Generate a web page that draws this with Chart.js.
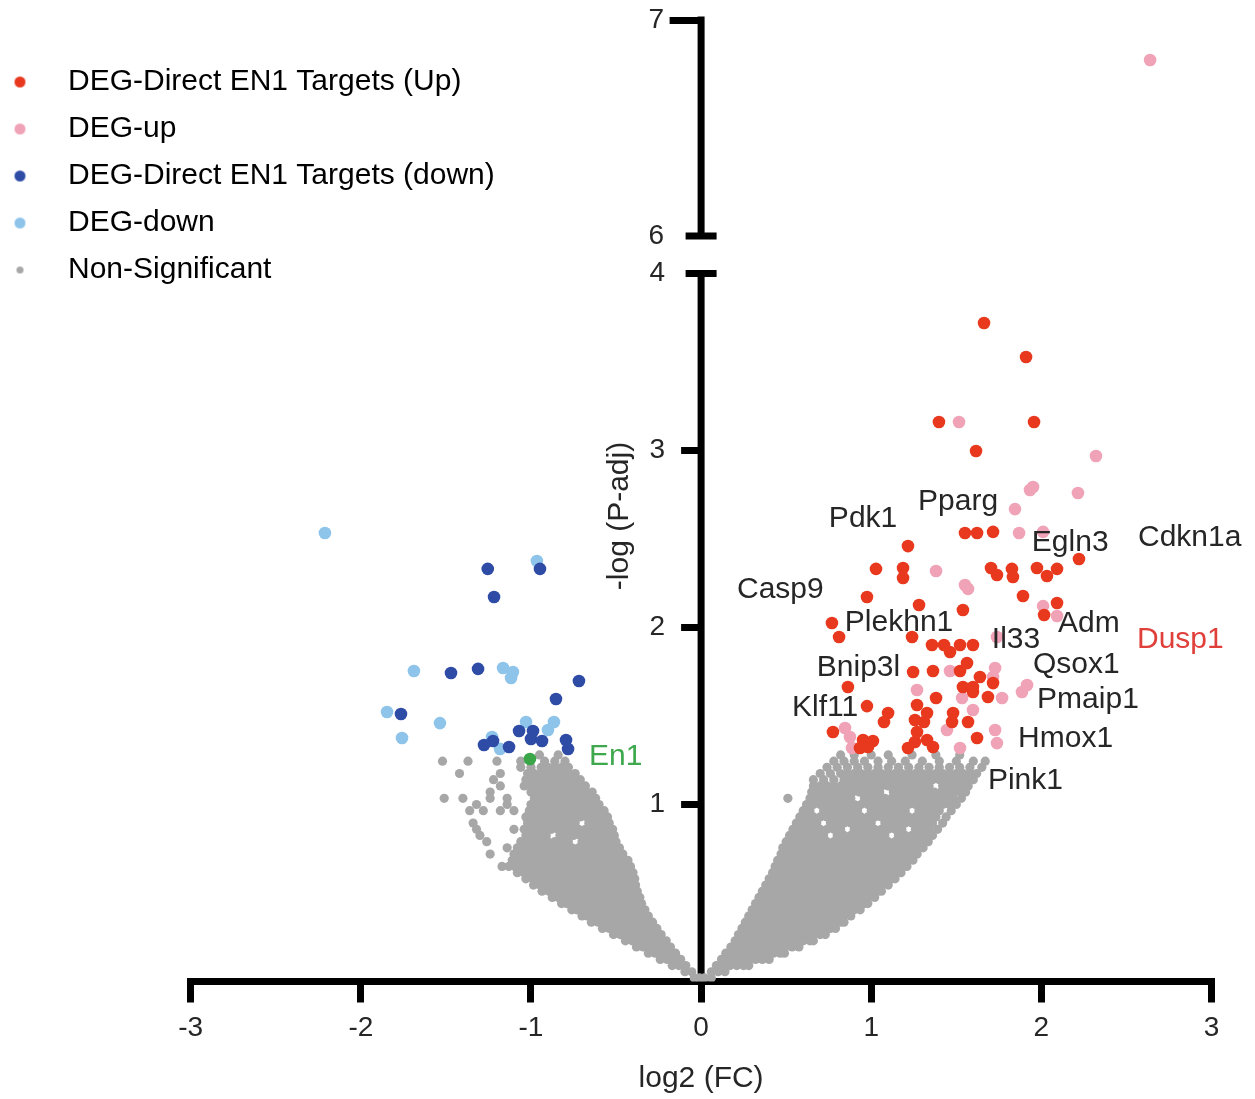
<!DOCTYPE html>
<html>
<head>
<meta charset="utf-8">
<title>Volcano plot</title>
<script src="https://cdn.jsdelivr.net/npm/chart.js@4.4.1/dist/chart.umd.min.js"></script>
<style>
  html, body { margin: 0; padding: 0; background: #fff; }
  #wrap { width: 1255px; height: 1099px; }
</style>
</head>
<body>
<div id="wrap"><canvas id="volcano" width="1255" height="1099"></canvas></div>
<script>
// legend order and colours
var seriesNames = ['DEG-Direct EN1 Targets (Up)', 'DEG-up', 'DEG-Direct EN1 Targets (down)', 'DEG-down', 'Non-Significant'];
var seriesColors = ['#e8391f', '#f0a2b6', '#2e4ca6', '#8ec4ea', '#a7a7a7'];

var xTicks = [-3, -2, -1, 0, 1, 2, 3];
var yTicksLow = [1, 2, 3, 4];
var yTicksHigh = [6, 7];

// [log2 FC, -log P-adj]
var upDirect = [
  [1.663, 3.720], [1.910, 3.528], [1.398, 3.161], [1.957, 3.161], [1.616, 2.997],
  [1.551, 2.534], [1.622, 2.534], [1.716, 2.540], [1.216, 2.460], [1.028, 2.331],
  [1.187, 2.336], [1.187, 2.280], [1.704, 2.336], [1.739, 2.297], [1.827, 2.331],
  [1.833, 2.285], [1.974, 2.336], [2.033, 2.291], [2.092, 2.331], [2.221, 2.387],
  [0.975, 2.172], [1.281, 2.127], [1.539, 2.099], [1.892, 2.178], [2.092, 2.138],
  [2.016, 2.071], [0.769, 2.025], [0.811, 1.946], [1.240, 1.946], [1.357, 1.901],
  [1.428, 1.901], [1.522, 1.901], [1.598, 1.901], [1.463, 1.862], [1.246, 1.749],
  [1.363, 1.754], [1.522, 1.754], [1.563, 1.799], [1.539, 1.664], [1.598, 1.664],
  [1.639, 1.720], [1.598, 1.636], [1.716, 1.686], [1.686, 1.607], [0.863, 1.664],
  [1.381, 1.602], [0.975, 1.556], [1.269, 1.562], [1.328, 1.517], [1.257, 1.477],
  [1.310, 1.466], [1.099, 1.517], [1.075, 1.466], [1.481, 1.517], [1.475, 1.466],
  [1.569, 1.466], [0.775, 1.410], [0.952, 1.364], [1.010, 1.359], [0.934, 1.319],
  [0.981, 1.325], [1.269, 1.410], [1.257, 1.353], [1.216, 1.319], [1.328, 1.364],
  [1.363, 1.325], [1.622, 1.376]
];
var upOther = [
  [1.516, 3.161], [2.321, 2.969], [1.933, 2.777], [1.951, 2.794], [2.215, 2.760],
  [1.845, 2.669], [1.869, 2.534], [2.010, 2.540], [1.381, 2.319], [1.551, 2.240],
  [1.569, 2.218], [2.010, 2.121], [2.092, 2.065], [1.739, 1.946], [1.728, 1.771],
  [1.463, 1.754], [1.916, 1.675], [1.886, 1.636], [1.269, 1.647], [1.534, 1.602],
  [1.598, 1.534], [0.846, 1.432], [0.875, 1.381], [0.887, 1.319], [1.445, 1.421],
  [1.728, 1.421], [1.739, 1.347], [1.522, 1.319], [1.769, 1.602], [1.716, 1.720]
];
var upOtherHigh = [[2.639, 6.815]];
var downDirect = [
  [-1.254, 2.331], [-0.947, 2.331], [-1.217, 2.172], [-1.470, 1.743], [-1.311, 1.766],
  [-0.718, 1.698], [-0.853, 1.596], [-1.764, 1.511], [-1.070, 1.415], [-0.988, 1.415],
  [-1.000, 1.370], [-0.935, 1.359], [-0.794, 1.364], [-0.782, 1.314], [-1.276, 1.336],
  [-1.223, 1.359], [-1.129, 1.325]
];
var downOther = [
  [-2.211, 2.534], [-0.965, 2.376], [-1.688, 1.754], [-1.164, 1.771], [-1.106, 1.749],
  [-1.117, 1.715], [-1.846, 1.523], [-1.535, 1.460], [-1.758, 1.376], [-1.029, 1.466],
  [-0.865, 1.466], [-0.900, 1.421], [-1.182, 1.314], [-1.229, 1.381]
];
var en1Point = [[-1.006, 1.257]];

// non-significant genes, one row per -log P-adj level: [y, x, x, ...]
var greyLeftRows = [
  [0.02, -0.01, -0.04],
  [0.055, -0.055, -0.095],
  [0.09, -0.09, -0.13, -0.17],
  [0.125, -0.12, -0.16, -0.20, -0.24],
  [0.16, -0.15, -0.19, -0.23, -0.27, -0.31],
  [0.195, -0.18, -0.22, -0.26, -0.30, -0.34, -0.38],
  [0.23, -0.205, -0.245, -0.285, -0.325, -0.365, -0.405, -0.445],
  [0.265, -0.235, -0.275, -0.315, -0.355, -0.395, -0.435, -0.475, -0.515],
  [0.30, -0.26, -0.30, -0.34, -0.38, -0.42, -0.46, -0.50, -0.54, -0.58],
  [0.335, -0.285, -0.325, -0.365, -0.405, -0.445, -0.485, -0.525, -0.565, -0.605, -0.645],
  [0.37, -0.31, -0.35, -0.39, -0.43, -0.47, -0.51, -0.55, -0.59, -0.63, -0.67, -0.70],
  [0.405, -0.33, -0.37, -0.41, -0.45, -0.49, -0.53, -0.57, -0.61, -0.65, -0.69, -0.73, -0.76],
  [0.44, -0.35, -0.39, -0.43, -0.47, -0.51, -0.55, -0.59, -0.63, -0.67, -0.71, -0.75, -0.79, -0.82],
  [0.475, -0.36, -0.40, -0.44, -0.48, -0.52, -0.56, -0.60, -0.64, -0.68, -0.72, -0.76, -0.80, -0.84, -0.875],
  [0.51, -0.375, -0.415, -0.455, -0.495, -0.535, -0.575, -0.615, -0.655, -0.695, -0.735, -0.775, -0.815, -0.855, -0.895, -0.935],
  [0.545, -0.385, -0.425, -0.465, -0.505, -0.545, -0.585, -0.625, -0.665, -0.705, -0.745, -0.785, -0.825, -0.865, -0.905, -0.945, -0.985],
  [0.58, -0.39, -0.43, -0.47, -0.51, -0.55, -0.59, -0.63, -0.67, -0.71, -0.75, -0.79, -0.83, -0.87, -0.91, -0.95, -0.99, -1.03],
  [0.615, -0.40, -0.44, -0.48, -0.52, -0.56, -0.60, -0.64, -0.68, -0.72, -0.76, -0.80, -0.84, -0.88, -0.92, -0.96, -1.00, -1.04, -1.08],
  [0.65, -0.415, -0.455, -0.495, -0.535, -0.575, -0.615, -0.655, -0.695, -0.735, -0.775, -0.815, -0.855, -0.895, -0.935, -0.975, -1.015, -1.055, -1.095, -1.13, -1.17],
  [0.685, -0.43, -0.47, -0.51, -0.55, -0.59, -0.63, -0.67, -0.71, -0.75, -0.79, -0.83, -0.87, -0.91, -0.95, -0.99, -1.03, -1.07, -1.11],
  [0.72, -0.46, -0.50, -0.54, -0.58, -0.62, -0.66, -0.70, -0.74, -0.78, -0.82, -0.86, -0.90, -0.94, -0.98, -1.02, -1.06, -1.10, -1.24],
  [0.755, -0.48, -0.52, -0.56, -0.60, -0.64, -0.68, -0.72, -0.76, -0.80, -0.84, -0.88, -0.92, -0.96, -1.00, -1.04, -1.08, -1.14],
  [0.79, -0.50, -0.54, -0.58, -0.62, -0.66, -0.70, -0.78, -0.82, -0.86, -0.90, -0.94, -0.98, -1.02, -1.06, -1.26],
  [0.825, -0.51, -0.55, -0.59, -0.63, -0.67, -0.71, -0.75, -0.79, -0.83, -0.91, -0.95, -0.99, -1.03, -1.30],
  [0.86, -0.52, -0.56, -0.60, -0.64, -0.68, -0.72, -0.76, -0.80, -0.84, -0.88, -0.92, -0.96, -1.00, -1.04, -1.10, -1.32],
  [0.895, -0.54, -0.58, -0.62, -0.66, -0.74, -0.78, -0.82, -0.86, -0.90, -0.94, -0.98, -1.02, -1.34],
  [0.93, -0.55, -0.59, -0.63, -0.67, -0.71, -0.75, -0.79, -0.83, -0.87, -0.91, -0.95, -0.99, -1.03],
  [0.965, -0.57, -0.61, -0.65, -0.69, -0.73, -0.77, -0.81, -0.85, -0.89, -0.93, -0.97, -1.01, -1.10, -1.18, -1.28, -1.36],
  [1.0, -0.60, -0.64, -0.68, -0.72, -0.76, -0.80, -0.84, -0.88, -0.92, -0.96, -1.00, -1.14, -1.32],
  [1.035, -0.62, -0.66, -0.70, -0.74, -0.78, -0.82, -0.86, -0.90, -0.94, -0.98, -1.14, -1.24, -1.40, -1.51],
  [1.07, -0.64, -0.68, -0.72, -0.76, -0.80, -0.84, -0.88, -0.92, -0.96, -1.00, -1.24],
  [1.105, -0.68, -0.72, -0.76, -0.80, -0.84, -0.88, -0.92, -0.96, -1.00, -1.04, -1.18],
  [1.14, -0.71, -0.75, -0.79, -0.83, -0.87, -0.91, -0.95, -0.99, -1.03, -1.22],
  [1.175, -0.74, -0.78, -0.82, -0.86, -0.90, -0.94, -0.98, -1.02, -1.18, -1.42],
  [1.21, -0.78, -0.82, -0.86, -0.90, -0.94, -1.00, -1.06],
  [1.245, -0.80, -0.86, -0.92, -1.06, -1.20, -1.37, -1.52],
  [1.28, -0.84, -0.95]
];
var greyRightRows = [
  [0.02, 0.02, 0.06],
  [0.055, 0.06, 0.10, 0.14],
  [0.09, 0.09, 0.13, 0.17, 0.21, 0.25, 0.28],
  [0.125, 0.12, 0.16, 0.20, 0.24, 0.28, 0.32, 0.36, 0.40],
  [0.16, 0.145, 0.185, 0.225, 0.265, 0.305, 0.345, 0.385, 0.425, 0.465, 0.49],
  [0.195, 0.175, 0.215, 0.255, 0.295, 0.335, 0.375, 0.415, 0.455, 0.495, 0.535, 0.575],
  [0.23, 0.20, 0.24, 0.28, 0.32, 0.36, 0.40, 0.44, 0.48, 0.52, 0.56, 0.60, 0.64, 0.66],
  [0.265, 0.22, 0.26, 0.30, 0.34, 0.38, 0.42, 0.46, 0.50, 0.54, 0.58, 0.62, 0.66, 0.70, 0.73],
  [0.30, 0.24, 0.28, 0.32, 0.36, 0.40, 0.44, 0.48, 0.52, 0.56, 0.60, 0.64, 0.68, 0.72, 0.76, 0.79],
  [0.335, 0.26, 0.30, 0.34, 0.38, 0.42, 0.46, 0.50, 0.54, 0.58, 0.62, 0.66, 0.70, 0.74, 0.78, 0.82, 0.84],
  [0.37, 0.28, 0.32, 0.36, 0.40, 0.44, 0.48, 0.52, 0.56, 0.60, 0.64, 0.68, 0.72, 0.76, 0.80, 0.84, 0.88],
  [0.405, 0.30, 0.34, 0.38, 0.42, 0.46, 0.50, 0.54, 0.58, 0.62, 0.66, 0.70, 0.74, 0.78, 0.82, 0.86, 0.90, 0.935],
  [0.44, 0.32, 0.36, 0.40, 0.44, 0.48, 0.52, 0.56, 0.60, 0.64, 0.68, 0.72, 0.76, 0.80, 0.84, 0.88, 0.92, 0.96, 0.98],
  [0.475, 0.34, 0.38, 0.42, 0.46, 0.50, 0.54, 0.58, 0.62, 0.66, 0.70, 0.74, 0.78, 0.82, 0.86, 0.90, 0.94, 0.98, 1.02],
  [0.51, 0.36, 0.40, 0.44, 0.48, 0.52, 0.56, 0.60, 0.64, 0.68, 0.72, 0.76, 0.80, 0.84, 0.88, 0.92, 0.96, 1.00, 1.04, 1.06],
  [0.545, 0.38, 0.42, 0.46, 0.50, 0.54, 0.58, 0.62, 0.66, 0.70, 0.74, 0.78, 0.82, 0.86, 0.90, 0.94, 0.98, 1.02, 1.06, 1.10],
  [0.58, 0.40, 0.44, 0.48, 0.52, 0.56, 0.60, 0.64, 0.68, 0.72, 0.76, 0.80, 0.84, 0.88, 0.92, 0.96, 1.00, 1.04, 1.08, 1.12, 1.14],
  [0.615, 0.42, 0.46, 0.50, 0.54, 0.58, 0.62, 0.66, 0.70, 0.74, 0.78, 0.82, 0.86, 0.90, 0.94, 0.98, 1.02, 1.06, 1.10, 1.14, 1.175],
  [0.65, 0.435, 0.475, 0.515, 0.555, 0.595, 0.635, 0.675, 0.715, 0.755, 0.795, 0.835, 0.875, 0.915, 0.955, 0.995, 1.035, 1.075, 1.115, 1.155, 1.195, 1.21],
  [0.685, 0.45, 0.49, 0.53, 0.57, 0.61, 0.65, 0.69, 0.73, 0.77, 0.81, 0.85, 0.89, 0.93, 0.97, 1.01, 1.05, 1.09, 1.13, 1.17, 1.21, 1.245],
  [0.72, 0.47, 0.51, 0.55, 0.59, 0.63, 0.67, 0.71, 0.75, 0.79, 0.83, 0.87, 0.91, 0.95, 0.99, 1.03, 1.07, 1.11, 1.15, 1.19, 1.23, 1.27],
  [0.755, 0.48, 0.52, 0.56, 0.60, 0.64, 0.68, 0.72, 0.76, 0.80, 0.84, 0.88, 0.92, 0.96, 1.00, 1.04, 1.08, 1.12, 1.16, 1.20, 1.24, 1.28, 1.305],
  [0.79, 0.50, 0.54, 0.58, 0.62, 0.66, 0.70, 0.74, 0.78, 0.82, 0.86, 0.90, 0.94, 0.98, 1.02, 1.06, 1.10, 1.14, 1.18, 1.22, 1.26, 1.30, 1.335],
  [0.825, 0.52, 0.56, 0.60, 0.64, 0.68, 0.72, 0.80, 0.84, 0.88, 0.92, 0.96, 1.00, 1.04, 1.08, 1.16, 1.20, 1.24, 1.28, 1.32, 1.36],
  [0.86, 0.54, 0.58, 0.62, 0.66, 0.70, 0.74, 0.78, 0.82, 0.90, 0.94, 0.98, 1.02, 1.06, 1.10, 1.14, 1.18, 1.26, 1.30, 1.34, 1.39],
  [0.895, 0.56, 0.60, 0.64, 0.68, 0.76, 0.80, 0.84, 0.88, 0.92, 0.96, 1.00, 1.08, 1.12, 1.16, 1.20, 1.24, 1.28, 1.32, 1.36, 1.42],
  [0.93, 0.58, 0.62, 0.66, 0.70, 0.74, 0.78, 0.82, 0.86, 0.90, 0.94, 0.98, 1.02, 1.06, 1.10, 1.14, 1.18, 1.22, 1.26, 1.30, 1.34, 1.38, 1.44],
  [0.965, 0.60, 0.64, 0.72, 0.76, 0.80, 0.84, 0.88, 0.92, 1.00, 1.04, 1.08, 1.12, 1.16, 1.20, 1.28, 1.32, 1.36, 1.40, 1.47],
  [1.0, 0.62, 0.66, 0.70, 0.74, 0.78, 0.82, 0.86, 0.90, 0.94, 0.98, 1.02, 1.06, 1.10, 1.14, 1.18, 1.22, 1.26, 1.30, 1.34, 1.38, 1.42, 1.46, 1.50],
  [1.035, 0.51, 0.64, 0.68, 0.72, 0.76, 0.80, 0.84, 0.88, 0.96, 1.00, 1.04, 1.08, 1.12, 1.16, 1.20, 1.24, 1.28, 1.32, 1.36, 1.40, 1.44, 1.48, 1.53],
  [1.07, 0.65, 0.69, 0.73, 0.77, 0.81, 0.85, 0.89, 0.93, 0.97, 1.01, 1.05, 1.13, 1.17, 1.21, 1.25, 1.29, 1.33, 1.37, 1.41, 1.45, 1.49, 1.53, 1.555],
  [1.105, 0.66, 0.70, 0.74, 0.78, 0.82, 0.86, 0.90, 0.94, 0.98, 1.02, 1.06, 1.10, 1.14, 1.18, 1.22, 1.26, 1.30, 1.34, 1.42, 1.46, 1.50, 1.54, 1.57],
  [1.14, 0.66, 0.72, 0.78, 0.84, 0.88, 0.92, 0.96, 1.00, 1.04, 1.08, 1.12, 1.16, 1.20, 1.24, 1.28, 1.32, 1.36, 1.40, 1.44, 1.48, 1.52, 1.56, 1.60],
  [1.175, 0.70, 0.76, 0.82, 0.86, 0.90, 0.94, 0.98, 1.02, 1.06, 1.10, 1.14, 1.18, 1.22, 1.26, 1.30, 1.34, 1.38, 1.42, 1.46, 1.50, 1.54, 1.58, 1.62],
  [1.21, 0.74, 0.80, 0.86, 0.92, 0.98, 1.04, 1.10, 1.16, 1.22, 1.28, 1.34, 1.40, 1.46, 1.52, 1.58, 1.65],
  [1.245, 0.78, 0.84, 0.90, 0.96, 1.04, 1.12, 1.20, 1.30, 1.40, 1.50, 1.60, 1.67],
  [1.28, 0.82, 0.90, 1.00, 1.10, 1.24, 1.38, 1.52]
];

// gene annotations: left edge and vertical centre, in data units
var geneNames = ['Pdk1', 'Pparg', 'Egln3', 'Cdkn1a', 'Casp9', 'Plekhn1', 'Il33', 'Adm', 'Dusp1',
  'Bnip3l', 'Qsox1', 'Klf11', 'Pmaip1', 'Hmox1', 'Pink1', 'En1'];
var geneX = [0.751, 1.275, 1.944, 2.568, 0.211, 0.845, 1.709, 2.098, 2.562,
  0.680, 1.951, 0.534, 1.975, 1.863, 1.686, -0.659];
var geneY = [2.613, 2.709, 2.480, 2.508, 2.212, 2.025, 1.929, 2.020, 1.929,
  1.771, 1.788, 1.545, 1.590, 1.370, 1.133, 1.268];
var geneColors = { 'Dusp1': '#e0403a', 'En1': '#3da84c' };

function toPoints(pairs) {
  return pairs.map(function (p) { return { x: p[0], y: p[1] }; });
}
function rowsToPoints(rows) {
  var pts = [];
  rows.forEach(function (r) {
    for (var i = 1; i < r.length; i++) pts.push({ x: r[i], y: r[0] });
  });
  return pts;
}
// small round marker for the legend
function dot(color, r) {
  var c = document.createElement('canvas');
  c.width = c.height = Math.ceil(r * 2 + 2);
  var g = c.getContext('2d');
  g.fillStyle = color;
  g.beginPath();
  g.arc(c.width / 2, c.height / 2, r, 0, Math.PI * 2);
  g.fill();
  return c;
}
// keep tick labels from padding the chart area
function noPad(s) {
  s.paddingTop = 0;
  s.paddingBottom = 0;
}

var textColor = '#262626';
var labelFont = "30px 'Liberation Sans', Arial, sans-serif";
Chart.defaults.font.family = "'Liberation Sans', Arial, Helvetica, sans-serif";
Chart.defaults.font.size = 28;
Chart.defaults.color = textColor;

// legend sits over the empty top-left corner, y axes sit on x = 0
var placement = {
  id: 'placement',
  afterLayout: function (chart) {
    var lg = chart.legend;
    lg.left = -30; lg.right = lg.left + 600;
    lg.top = 50; lg.bottom = lg.top + 300;
    var x0 = chart.scales.x.getPixelForValue(0);
    ['yLow', 'yHigh'].forEach(function (id) {
      var s = chart.scales[id];
      var w = s.width;
      s.right = x0;
      s.left = x0 - w;
    });
  }
};

// axis line with the 4 -> 6 break, plus the rotated y title
var brokenAxis = {
  id: 'brokenAxis',
  beforeDatasetsDraw: function (chart) {
    var g = chart.ctx;
    var x0 = chart.scales.x.getPixelForValue(0);
    var lo = chart.scales.yLow, hi = chart.scales.yHigh;
    var top = hi.getPixelForValue(yTicksHigh[1]);
    var brk1 = hi.getPixelForValue(yTicksHigh[0]);
    var brk2 = lo.getPixelForValue(yTicksLow[yTicksLow.length - 1]);
    var base = lo.getPixelForValue(0);
    g.save();
    g.strokeStyle = '#000';
    g.lineWidth = 7;
    g.lineCap = 'butt';
    g.beginPath();
    g.moveTo(x0, top - 3.5); g.lineTo(x0, brk1);
    g.moveTo(x0, brk2); g.lineTo(x0, base);
    g.moveTo(x0 - 15.5, brk1); g.lineTo(x0 + 15.5, brk1);
    g.moveTo(x0 - 15.5, brk2); g.lineTo(x0 + 15.5, brk2);
    g.stroke();

    g.translate(x0 - 81, 516);
    g.rotate(-Math.PI / 2);
    g.fillStyle = textColor;
    g.font = labelFont;
    g.textAlign = 'center';
    g.textBaseline = 'middle';
    g.fillText('-log (P-adj)', 0, 0);
    g.restore();
  }
};

var geneLabels = {
  id: 'geneLabels',
  afterDatasetsDraw: function (chart) {
    var g = chart.ctx;
    var xs = chart.scales.x, ys = chart.scales.yLow;
    g.save();
    g.font = labelFont;
    g.textAlign = 'left';
    g.textBaseline = 'middle';
    geneNames.forEach(function (name, i) {
      g.fillStyle = geneColors[name] || textColor;
      g.fillText(name, xs.getPixelForValue(geneX[i]), ys.getPixelForValue(geneY[i]));
    });
    g.restore();
  }
};

var ctx = document.getElementById('volcano').getContext('2d');
var volcano = new Chart(ctx, {
  type: 'scatter',
  data: {
    datasets: [
      { label: 'En1', data: toPoints(en1Point), backgroundColor: '#3aa648', pointRadius: 6.3, yAxisID: 'yLow' },
      { label: seriesNames[0], data: toPoints(upDirect), backgroundColor: seriesColors[0], pointRadius: 6.3, yAxisID: 'yLow' },
      { label: seriesNames[1], data: toPoints(upOther), backgroundColor: seriesColors[1], pointRadius: 6.3, yAxisID: 'yLow' },
      { label: seriesNames[1] + ' (top)', data: toPoints(upOtherHigh), backgroundColor: seriesColors[1], pointRadius: 6.3, yAxisID: 'yHigh' },
      { label: seriesNames[2], data: toPoints(downDirect), backgroundColor: seriesColors[2], pointRadius: 6.3, yAxisID: 'yLow' },
      { label: seriesNames[3], data: toPoints(downOther), backgroundColor: seriesColors[3], pointRadius: 6.3, yAxisID: 'yLow' },
      { label: seriesNames[4], data: rowsToPoints(greyLeftRows).concat(rowsToPoints(greyRightRows)), backgroundColor: seriesColors[4], pointRadius: 4.6, yAxisID: 'yLow' }
    ]
  },
  options: {
    responsive: false,
    animation: false,
    devicePixelRatio: 1,
    events: [],
    layout: { padding: { left: 70.7, right: 43.5, top: 20, bottom: 0 } },
    elements: { point: { borderWidth: 0, hoverRadius: 6 } },
    plugins: {
      tooltip: { enabled: false },
      legend: {
        position: 'chartArea',
        align: 'start',
        labels: {
          usePointStyle: true,
          pointStyleWidth: 66,
          padding: 17,
          color: textColor,
          font: { size: 30 },
          generateLabels: function () {
            return seriesNames.map(function (name, i) {
              return {
                text: name,
                fillStyle: seriesColors[i],
                strokeStyle: seriesColors[i],
                lineWidth: 0,
                pointStyle: dot(seriesColors[i], i === 4 ? 3.5 : 5.5),
                hidden: false
              };
            });
          }
        }
      }
    },
    scales: {
      x: {
        type: 'linear',
        position: 'bottom',
        min: -3,
        max: 3,
        afterBuildTicks: function (s) { s.ticks = xTicks.map(function (v) { return { value: v }; }); },
        afterFit: function (s) { s.height = 117.5; },
        border: { display: true, color: '#000', width: 7 },
        grid: { display: true, drawOnChartArea: false, drawTicks: true, tickLength: 21, lineWidth: 7, tickWidth: 7, tickColor: '#000' },
        ticks: { color: textColor, padding: 9, maxRotation: 0, font: { size: 28 } },
        title: { display: true, text: 'log2 (FC)', color: textColor, font: { size: 30 }, padding: { top: 4, bottom: 2 } }
      },
      yLow: {
        type: 'linear',
        position: 'left',
        min: 0,
        max: 5.4322,
        afterBuildTicks: function (s) { s.ticks = yTicksLow.map(function (v) { return { value: v }; }); },
        afterFit: function (s) { s.width = 60; noPad(s); },
        border: { display: false },
        grid: {
          display: true, drawOnChartArea: false, drawTicks: true, tickLength: 20, lineWidth: 7, tickWidth: 7,
          tickColor: function (c) { return c.tick && c.tick.value === yTicksLow[yTicksLow.length - 1] ? 'rgba(0,0,0,0)' : '#000'; }
        },
        ticks: { color: textColor, padding: 16, font: { size: 28 } }
      },
      yHigh: {
        type: 'linear',
        position: 'left',
        min: 2.5486,
        max: 7,
        afterBuildTicks: function (s) { s.ticks = yTicksHigh.map(function (v) { return { value: v }; }); },
        afterFit: function (s) { s.width = 60; noPad(s); },
        border: { display: false },
        grid: {
          display: true, drawOnChartArea: false, drawTicks: true, tickLength: 31.5, lineWidth: 7, tickWidth: 7,
          tickColor: function (c) { return c.tick && c.tick.value === yTicksHigh[0] ? 'rgba(0,0,0,0)' : '#000'; }
        },
        ticks: { color: textColor, padding: 5.6, font: { size: 28 } }
      }
    }
  },
  plugins: [placement, brokenAxis, geneLabels]
});
</script>
</body>
</html>
